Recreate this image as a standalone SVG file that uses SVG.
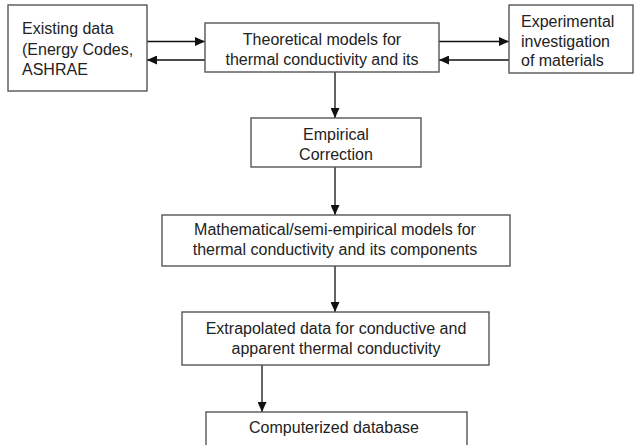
<svg xmlns="http://www.w3.org/2000/svg" width="634" height="445" viewBox="0 0 634 445">
<style>
.box{fill:#fff;stroke:#555;stroke-width:1.4}
.t{font-family:"Liberation Sans",Arial,sans-serif;font-size:16px;fill:#222}
.c{text-anchor:middle}
.ln{stroke:#111;stroke-width:1.3;fill:none}
</style>
<defs>
<marker id="ah" markerUnits="userSpaceOnUse" markerWidth="11" markerHeight="9" refX="10" refY="4.5" orient="auto">
<path d="M0,0 L10,4.5 L0,9 z" fill="#111"/>
</marker>
</defs>
<rect width="634" height="445" fill="#fff"/>
<g id="connectors">
<line class="ln" x1="147" y1="41.5" x2="205" y2="41.5" marker-end="url(#ah)"/>
<line class="ln" x1="205" y1="60" x2="147" y2="60" marker-end="url(#ah)"/>
<line class="ln" x1="439" y1="41.5" x2="509" y2="41.5" marker-end="url(#ah)"/>
<line class="ln" x1="509" y1="60" x2="439" y2="60" marker-end="url(#ah)"/>
<line class="ln" x1="335" y1="72" x2="335" y2="118" marker-end="url(#ah)"/>
<line class="ln" x1="335" y1="167" x2="335" y2="215" marker-end="url(#ah)"/>
<line class="ln" x1="335" y1="266" x2="335" y2="312" marker-end="url(#ah)"/>
<line class="ln" x1="262" y1="365" x2="262" y2="412" marker-end="url(#ah)"/>
</g>
<g id="existing">
<rect class="box" x="8" y="5" width="139" height="86"/>
<text class="t" x="22" y="34">Existing data</text>
<text class="t" x="22" y="55">(Energy Codes,</text>
<text class="t" x="22" y="75">ASHRAE</text>
</g>
<g id="theoretical">
<rect class="box" x="205" y="23" width="234" height="49"/>
<text class="t c" x="322" y="44.5">Theoretical models for</text>
<text class="t c" x="322" y="64.5">thermal conductivity and its</text>
</g>
<g id="experimental">
<rect class="box" x="509" y="5" width="124" height="68"/>
<text class="t" x="521" y="27">Experimental</text>
<text class="t" x="521" y="47">investigation</text>
<text class="t" x="521" y="66">of materials</text>
</g>
<g id="empirical">
<rect class="box" x="251" y="118" width="170" height="49"/>
<text class="t c" x="336" y="140">Empirical</text>
<text class="t c" x="336" y="160">Correction</text>
</g>
<g id="mathematical">
<rect class="box" x="162" y="215" width="348" height="51"/>
<text class="t c" x="335" y="235">Mathematical/semi-empirical models for</text>
<text class="t c" x="335" y="255">thermal conductivity and its components</text>
</g>
<g id="extrapolated">
<rect class="box" x="182" y="312" width="307" height="53"/>
<text class="t c" x="336" y="333.5">Extrapolated data for conductive and</text>
<text class="t c" x="336" y="353.5">apparent thermal conductivity</text>
</g>
<g id="database">
<rect class="box" x="206" y="412" width="261" height="50"/>
<text class="t c" x="334" y="433">Computerized database</text>
</g>
</svg>
